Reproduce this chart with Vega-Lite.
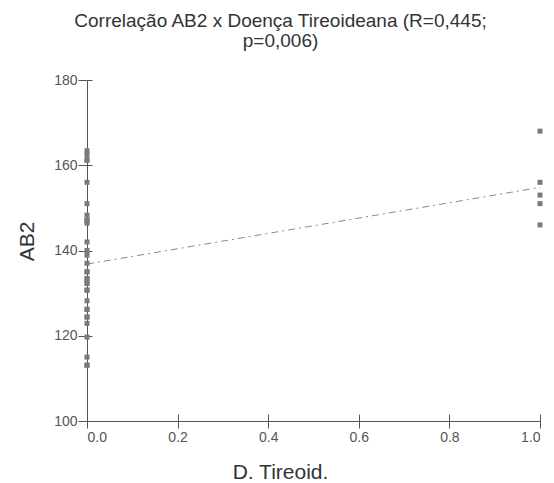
{
  "$schema": "https://vega.github.io/schema/vega-lite/v6.json",
  "width": 453,
  "height": 341,
  "autosize": {"type": "none"},
  "padding": {"left": 87, "top": 80, "right": 14, "bottom": 62},
  "background": "white",
  "title": {
    "text": ["Correlação AB2 x Doença Tireoideana (R=0,445;", "p=0,006)"],
    "anchor": "middle",
    "dx": -33,
    "offset": 22,
    "font": "Liberation Sans",
    "fontSize": 19,
    "fontWeight": "normal",
    "color": "#333333",
    "lineHeight": 20
  },
  "config": {
    "view": {"stroke": null},
    "axis": {
      "grid": false,
      "domainColor": "#555555",
      "tickColor": "#555555",
      "labelFont": "Liberation Sans",
      "labelFontSize": 14,
      "labelColor": "#555555",
      "titleFont": "Liberation Sans",
      "titleFontSize": 21,
      "titleFontWeight": "normal",
      "titleColor": "#333333"
    }
  },
  "data": {
    "values": [
      {"d": 0, "ab2": 163.4}, {"d": 0, "ab2": 162.4}, {"d": 0, "ab2": 161.2},
      {"d": 0, "ab2": 156}, {"d": 0, "ab2": 151}, {"d": 0, "ab2": 148.3},
      {"d": 0, "ab2": 147.1}, {"d": 0, "ab2": 146.4}, {"d": 0, "ab2": 142},
      {"d": 0, "ab2": 140}, {"d": 0, "ab2": 138.9}, {"d": 0, "ab2": 137},
      {"d": 0, "ab2": 135}, {"d": 0, "ab2": 133.4}, {"d": 0, "ab2": 132.3},
      {"d": 0, "ab2": 130.7}, {"d": 0, "ab2": 128.2}, {"d": 0, "ab2": 126.2},
      {"d": 0, "ab2": 124.4}, {"d": 0, "ab2": 122.9}, {"d": 0, "ab2": 119.7},
      {"d": 0, "ab2": 115}, {"d": 0, "ab2": 113.1},
      {"d": 0, "ab2": 133.4}, {"d": 0, "ab2": 132.3}, {"d": 0, "ab2": 130.7},
      {"d": 0, "ab2": 135}, {"d": 0, "ab2": 147.1}, {"d": 0, "ab2": 161.2},
      {"d": 0, "ab2": 126.2}, {"d": 0, "ab2": 124.4}, {"d": 0, "ab2": 113.1},
      {"d": 1, "ab2": 168}, {"d": 1, "ab2": 156}, {"d": 1, "ab2": 153},
      {"d": 1, "ab2": 151}, {"d": 1, "ab2": 146}
    ]
  },
  "resolve": {"axis": {"x": "independent", "y": "independent"}},
  "layer": [
    {
      "mark": {"type": "rule", "opacity": 0},
      "encoding": {
        "x": {"field": "d", "type": "quantitative", "scale": {"domain": [0, 1], "nice": false, "zero": false},
          "axis": {"orient": "bottom", "tickSize": -7, "labels": false, "domain": false, "title": null, "values": [0, 0.2, 0.4, 0.6, 0.8, 1]}},
        "y": {"field": "ab2", "type": "quantitative", "scale": {"domain": [100, 180], "nice": false, "zero": false},
          "axis": {"orient": "left", "tickSize": -5, "labels": false, "domain": false, "title": null, "values": [100, 120, 140, 160, 180]}}
      }
    },
    {
      "transform": [{"regression": "ab2", "on": "d", "extent": [0, 1]}],
      "mark": {"type": "line", "color": "#8a8a8a", "strokeWidth": 1, "strokeDash": [7, 4, 2, 4]},
      "encoding": {
        "x": {"field": "d", "type": "quantitative", "scale": {"domain": [0, 1], "nice": false, "zero": false}, "axis": null},
        "y": {"field": "ab2", "type": "quantitative", "scale": {"domain": [100, 180], "nice": false, "zero": false}, "axis": null}
      }
    },
    {
      "mark": {"type": "square", "filled": true, "color": "#7a7a7a", "opacity": 1, "size": 25},
      "encoding": {
        "x": {"field": "d", "type": "quantitative", "scale": {"domain": [0, 1], "nice": false, "zero": false},
          "axis": {"orient": "bottom", "title": "D. Tireoid.", "titleX": 193, "titleY": 57, "titleAlign": "center", "titleBaseline": "alphabetic", "format": ".1f", "values": [0, 0.2, 0.4, 0.6, 0.8, 1], "tickSize": 7, "labelPadding": 2}},
        "y": {"field": "ab2", "type": "quantitative", "scale": {"domain": [100, 180], "nice": false, "zero": false},
          "axis": {"orient": "left", "title": "AB2", "titleX": -54, "titleY": 161, "titleAlign": "center", "titleBaseline": "alphabetic", "titleAngle": -90, "values": [100, 120, 140, 160, 180], "tickSize": 9, "labelPadding": 1}}
      }
    }
  ]
}
